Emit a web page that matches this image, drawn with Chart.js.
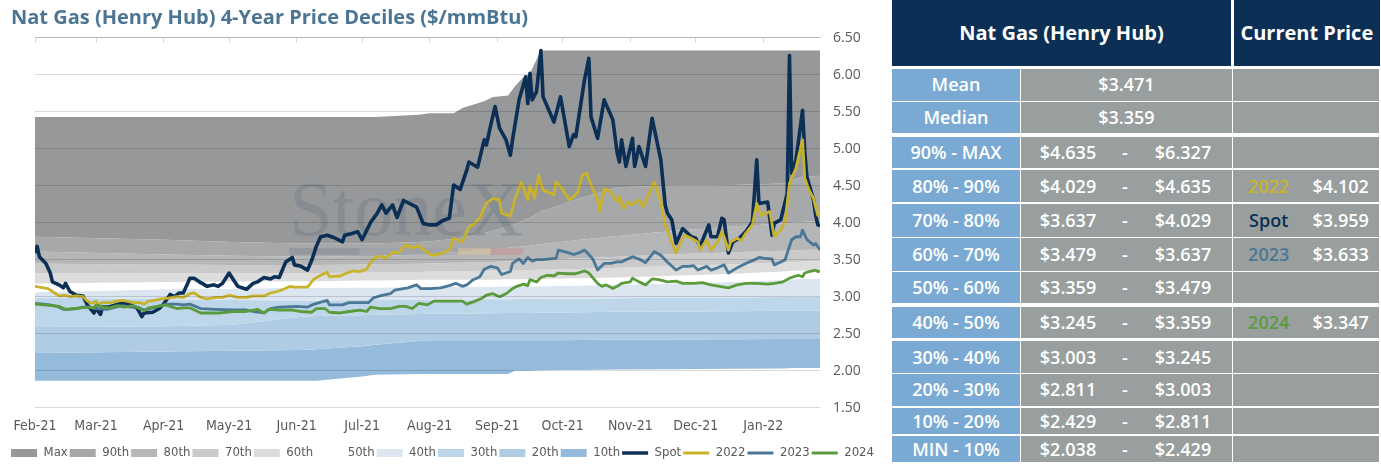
<!DOCTYPE html>
<html>
<head>
<meta charset="utf-8">
<title>Nat Gas (Henry Hub) 4-Year Price Deciles</title>
<script src="https://cdn.jsdelivr.net/npm/chart.js@4.4.1/dist/chart.umd.min.js"></script>
<style>
  html, body { margin: 0; padding: 0; background: #fff; }
  body { position: relative; width: 1381px; height: 464px; overflow: hidden; font-family: 'Open Sans', sans-serif; }
  #chartWrap { position: absolute; left: 0; top: 0; width: 885px; height: 464px; }
  #title { position: absolute; left: 11px; top: 4px; line-height: 26px; font-size: 20px; font-weight: 700; color: #4b7592; white-space: nowrap; }
  #table { position: absolute; left: 892px; top: 0; width: 489px; height: 464px; }
  #table .c { position: absolute; box-sizing: border-box; color: #fff; font-weight: 600; font-size: 18px; text-align: center; white-space: nowrap; }
  #table .hd { background: #0c2f55; font-size: 20px; font-weight: 700; }
  #table .lab { background: #7aaad4; }
  #table .val, #table .cur { background: #989f9e; }
  #table .part { position: absolute; top: 0; height: 100%; text-align: center; }
</style>
</head>
<body>
<div id="chartWrap"><canvas id="decileChart"></canvas></div>
<div id="title">Nat Gas (Henry Hub) 4-Year Price Deciles ($/mmBtu)</div>
<div id="table"></div>
<script>
// x axis = days counted from 1 Feb 2021
const monthDays = [0, 28, 59, 89, 120, 150, 181, 212, 242, 273, 303, 334];
const monthLabels = ['Feb-21', 'Mar-21', 'Apr-21', 'May-21', 'Jun-21', 'Jul-21',
  'Aug-21', 'Sep-21', 'Oct-21', 'Nov-21', 'Dec-21', 'Jan-22'];

// rolling decile lines, all sampled on the same days
const bandDays = [0, 30, 60, 91, 122, 129, 150, 156, 176, 181, 192, 196, 206, 210, 217,
  220, 224, 227, 232, 241, 250, 267, 290, 320, 343, 348, 352, 360];
const maxLine = [5.43, 5.43, 5.43, 5.43, 5.43, 5.43, 5.43, 5.43, 5.46, 5.48, 5.48, 5.55, 5.64, 5.70, 5.72,
  5.84, 5.97, 6.02, 6.327, 6.327, 6.327, 6.327, 6.327, 6.327, 6.327, 6.327, 6.327, 6.327];
const p90 = [3.81, 3.79, 3.77, 3.74, 3.72, 3.72, 3.72, 3.72, 3.74, 3.75, 3.78, 3.80, 3.86, 3.89, 3.95,
  3.98, 4.03, 4.07, 4.15, 4.24, 4.33, 4.48, 4.50, 4.51, 4.53, 4.58, 4.62, 4.635];
const p80 = [3.61, 3.59, 3.57, 3.555, 3.54, 3.54, 3.55, 3.55, 3.57, 3.58, 3.60, 3.61, 3.63, 3.64, 3.66,
  3.67, 3.68, 3.69, 3.71, 3.74, 3.77, 3.82, 3.88, 3.95, 3.99, 4.00, 4.01, 4.029];
const p70 = [3.45, 3.44, 3.435, 3.43, 3.43, 3.43, 3.435, 3.44, 3.445, 3.45, 3.46, 3.46, 3.47, 3.47, 3.48,
  3.48, 3.49, 3.49, 3.50, 3.51, 3.52, 3.54, 3.57, 3.60, 3.62, 3.625, 3.63, 3.637];
const p60 = [3.315, 3.315, 3.315, 3.32, 3.32, 3.32, 3.325, 3.33, 3.335, 3.34, 3.34, 3.345, 3.35, 3.35, 3.355,
  3.36, 3.36, 3.36, 3.365, 3.37, 3.375, 3.39, 3.41, 3.44, 3.46, 3.47, 3.475, 3.479];
const p50 = [3.18, 3.19, 3.20, 3.205, 3.21, 3.21, 3.22, 3.22, 3.23, 3.23, 3.23, 3.23, 3.23, 3.23, 3.235,
  3.235, 3.235, 3.24, 3.24, 3.245, 3.25, 3.26, 3.28, 3.31, 3.34, 3.35, 3.355, 3.359];
const p40 = [3.06, 3.08, 3.10, 3.11, 3.12, 3.12, 3.125, 3.125, 3.13, 3.13, 3.13, 3.13, 3.135, 3.135, 3.14,
  3.14, 3.14, 3.14, 3.14, 3.145, 3.15, 3.16, 3.18, 3.20, 3.225, 3.235, 3.24, 3.245];
const p30 = [2.99, 2.98, 2.965, 2.955, 2.95, 2.95, 2.955, 2.955, 2.96, 2.96, 2.96, 2.96, 2.965, 2.965, 2.965,
  2.97, 2.97, 2.97, 2.97, 2.975, 2.975, 2.98, 2.985, 2.99, 2.995, 3.0, 3.0, 3.003];
const p20 = [2.59, 2.595, 2.60, 2.62, 2.73, 2.74, 2.75, 2.755, 2.765, 2.77, 2.77, 2.77, 2.775, 2.775, 2.78,
  2.78, 2.78, 2.78, 2.785, 2.785, 2.79, 2.795, 2.80, 2.805, 2.81, 2.81, 2.81, 2.811];
const p10 = [2.24, 2.25, 2.26, 2.27, 2.28, 2.29, 2.33, 2.35, 2.40, 2.41, 2.41, 2.41, 2.41, 2.41, 2.41,
  2.41, 2.41, 2.41, 2.41, 2.412, 2.415, 2.42, 2.42, 2.425, 2.427, 2.428, 2.429, 2.429];
const minLine = [1.865, 1.865, 1.865, 1.865, 1.865, 1.865, 1.92, 1.945, 1.955, 1.955, 1.955, 1.955, 1.955, 1.955, 1.955,
  2.0, 2.0, 2.0, 2.005, 2.01, 2.01, 2.015, 2.02, 2.025, 2.03, 2.035, 2.037, 2.038];

// price lines as [day, $/mmBtu]
const spotSeries = [[0,3.59],[1,3.68],[2,3.54],[5,3.45],[7,3.32],[8,3.20],[11,3.16],[13,3.12],[14,3.18],[16,3.07],
  [19,3.02],[22,3.01],[24,2.89],[27,2.78],[28,2.84],[30,2.76],[31,2.86],[34,2.86],[37,2.89],[40,2.91],
  [44,2.89],[47,2.84],[49,2.73],[50,2.78],[54,2.79],[57,2.84],[59,2.90],[62,3.03],[64,3.00],[66,3.05],
  [68,3.05],[70,3.18],[71,3.25],[73,3.25],[76,3.19],[79,3.14],[82,3.16],[84,3.14],[86,3.18],[89,3.32],
  [91,3.23],[93,3.14],[97,3.10],[100,3.18],[102,3.20],[105,3.26],[108,3.24],[110,3.27],[112,3.26],[115,3.47],
  [118,3.53],[119,3.43],[122,3.41],[125,3.36],[127,3.50],[129,3.68],[131,3.81],[134,3.83],[137,3.80],[141,3.74],
  [142,3.83],[145,3.85],[148,3.88],[150,3.77],[152,3.89],[154,4.01],[157,4.13],[159,4.24],[161,4.13],[164,4.24],
  [166,4.07],[169,4.30],[173,4.24],[175,4.21],[178,3.99],[181,3.97],[184,3.97],[187,4.03],[190,4.06],[192,4.51],
  [195,4.45],[198,4.71],[199,4.82],[203,4.75],[206,5.12],[207,5.05],[209,5.32],[211,5.57],[213,5.28],[216,5.12],
  [218,4.91],[219,5.12],[222,5.66],[225,5.97],[226,5.61],[227,6.02],[228,5.66],[230,5.77],[232,6.327],[233,5.70],
  [238,5.36],[241,5.70],[245,5.03],[247,5.19],[248,5.16],[252,5.93],[254,6.22],[255,5.43],[258,5.14],[261,5.66],
  [264,5.46],[265,5.39],[267,4.94],[268,4.82],[269,5.12],[271,4.76],[274,5.14],[275,4.76],[277,5.03],[280,4.76],
  [283,5.41],[287,4.85],[289,4.24],[290,4.13],[292,4.04],[294,3.72],[297,3.92],[301,3.81],[303,3.79],[305,3.68],
  [309,3.97],[310,3.81],[313,3.81],[315,4.06],[316,4.04],[318,3.59],[320,3.74],[323,3.79],[326,3.88],[329,4.01],
  [331,4.85],[332,4.26],[336,4.28],[338,3.83],[339,3.99],[342,4.04],[345,4.40],[346,6.26],[347,4.67],[349,4.85],
  [352,5.52],[353,4.96],[354,4.62],[357,4.31],[358,4.10],[359,3.97],[360,3.959]];
const y2022Series = [[0,3.14],[4,3.12],[6,3.11],[8,3.07],[11,3.01],[14,3.02],[16,3.00],[19,3.01],[22,3.00],[24,2.94],
  [26,2.91],[28,2.94],[29,2.90],[31,2.92],[35,2.92],[37,2.94],[40,2.95],[42,2.94],[45,2.92],[48,2.92],
  [50,2.90],[52,2.94],[55,2.95],[58,2.97],[61,2.98],[65,3.00],[68,2.99],[71,3.04],[73,3.05],[76,2.99],
  [79,2.97],[83,2.99],[86,2.99],[89,3.02],[93,2.99],[97,2.99],[100,3.01],[105,3.01],[108,3.05],[111,3.07],
  [114,3.10],[117,3.14],[119,3.13],[125,3.13],[128,3.24],[131,3.29],[134,3.33],[135,3.27],[140,3.28],[143,3.32],
  [146,3.35],[149,3.34],[152,3.37],[155,3.51],[158,3.55],[161,3.52],[164,3.60],[167,3.60],[170,3.70],[173,3.66],
  [176,3.69],[179,3.62],[182,3.56],[186,3.58],[190,3.63],[192,3.79],[196,3.74],[199,3.95],[201,3.97],[204,4.07],
  [207,4.26],[210,4.33],[213,4.31],[214,4.13],[218,4.09],[220,4.31],[223,4.55],[226,4.31],[227,4.50],[229,4.33],
  [231,4.64],[233,4.44],[238,4.38],[239,4.56],[242,4.45],[245,4.31],[247,4.35],[249,4.42],[251,4.64],[253,4.67],
  [255,4.51],[258,4.31],[259,4.15],[261,4.46],[264,4.42],[267,4.28],[268,4.35],[270,4.19],[272,4.28],[274,4.24],
  [277,4.31],[279,4.22],[284,4.55],[287,4.28],[289,3.97],[291,3.81],[294,3.59],[296,3.74],[298,3.83],[301,3.79],
  [304,3.74],[305,3.63],[308,3.77],[310,3.63],[313,3.74],[315,3.88],[316,3.81],[318,3.63],[319,3.74],[322,3.79],
  [324,3.76],[326,3.86],[329,3.97],[331,4.26],[333,4.10],[337,4.15],[339,3.81],[342,3.90],[344,4.01],[346,4.53],
  [349,4.74],[352,5.12],[353,4.60],[355,4.44],[357,4.33],[359,4.10],[360,4.102]];
const y2023Series = [[0,2.91],[4,2.90],[7,2.89],[10,2.87],[13,2.83],[16,2.83],[19,2.84],[22,2.86],[25,2.86],[28,2.84],
  [33,2.83],[37,2.86],[40,2.88],[44,2.86],[47,2.86],[50,2.82],[54,2.85],[59,2.89],[62,2.90],[65,2.90],
  [68,2.89],[71,2.90],[76,2.84],[83,2.83],[91,2.82],[97,2.82],[100,2.80],[105,2.78],[108,2.84],[112,2.86],
  [120,2.87],[125,2.86],[128,2.90],[134,2.95],[135,2.89],[141,2.89],[144,2.92],[148,2.92],[153,2.92],[155,2.98],
  [158,3.01],[163,3.04],[165,3.09],[167,3.10],[171,3.12],[175,3.16],[177,3.11],[181,3.11],[186,3.12],[190,3.15],
  [193,3.18],[196,3.14],[198,3.16],[201,3.23],[204,3.27],[206,3.37],[209,3.41],[212,3.39],[214,3.30],[218,3.34],
  [219,3.45],[222,3.51],[224,3.45],[226,3.53],[228,3.48],[230,3.50],[233,3.50],[239,3.52],[240,3.63],[244,3.60],
  [247,3.57],[250,3.60],[252,3.63],[254,3.57],[256,3.50],[258,3.36],[261,3.45],[264,3.45],[267,3.47],[269,3.47],
  [271,3.50],[274,3.54],[277,3.51],[280,3.46],[284,3.61],[287,3.56],[290,3.47],[294,3.36],[297,3.41],[300,3.41],
  [302,3.42],[304,3.36],[308,3.41],[310,3.36],[313,3.39],[316,3.43],[318,3.32],[322,3.39],[326,3.45],[330,3.50],
  [332,3.53],[334,3.52],[338,3.51],[339,3.43],[342,3.47],[344,3.50],[347,3.77],[349,3.81],[351,3.81],[352,3.90],
  [354,3.77],[357,3.70],[358,3.72],[360,3.633]];
const y2024Series = [[0,2.90],[4,2.89],[8,2.88],[11,2.87],[14,2.83],[17,2.84],[21,2.85],[24,2.86],[27,2.85],[28,2.89],
  [31,2.86],[34,2.85],[38,2.88],[41,2.86],[45,2.88],[48,2.84],[50,2.81],[52,2.85],[56,2.87],[60,2.89],
  [63,2.86],[65,2.84],[68,2.85],[71,2.85],[76,2.78],[80,2.78],[85,2.78],[91,2.80],[97,2.80],[102,2.83],
  [105,2.78],[107,2.83],[112,2.82],[118,2.82],[122,2.80],[127,2.79],[129,2.84],[133,2.84],[135,2.79],[140,2.78],
  [144,2.80],[149,2.82],[152,2.80],[154,2.86],[158,2.84],[163,2.84],[167,2.87],[170,2.87],[173,2.84],[176,2.91],
  [180,2.89],[183,2.94],[187,2.94],[190,2.94],[196,2.94],[198,2.90],[201,2.93],[205,2.98],[207,3.02],[210,3.04],
  [213,3.00],[216,3.04],[219,3.11],[221,3.14],[224,3.17],[226,3.15],[227,3.23],[230,3.20],[232,3.26],[235,3.29],
  [238,3.28],[240,3.32],[244,3.31],[248,3.31],[252,3.35],[254,3.32],[258,3.18],[260,3.14],[262,3.16],[265,3.11],
  [267,3.14],[269,3.18],[273,3.20],[274,3.25],[277,3.20],[280,3.16],[283,3.24],[286,3.23],[290,3.20],[294,3.21],
  [297,3.18],[302,3.18],[306,3.19],[310,3.16],[314,3.14],[318,3.12],[322,3.16],[326,3.18],[331,3.18],[336,3.17],
  [339,3.18],[343,3.20],[346,3.25],[348,3.27],[350,3.29],[352,3.27],[353,3.32],[355,3.34],[358,3.36],[359,3.34],
  [360,3.347]];

// table
const rowLabels = ['Mean', 'Median', '90% - MAX', '80% - 90%', '70% - 80%', '60% - 70%', '50% - 60%',
  '40% - 50%', '30% - 40%', '20% - 30%', '10% - 20%', 'MIN - 10%'];
const statValues = [3.471, 3.359];
const rangeLow = [4.635, 4.029, 3.637, 3.479, 3.359, 3.245, 3.003, 2.811, 2.429, 2.038];
const rangeHigh = [6.327, 4.635, 4.029, 3.637, 3.479, 3.359, 3.245, 3.003, 2.811, 2.429];
const currentNames = ['2022', 'Spot', '2023', '2024'];
const currentValues = [4.102, 3.959, 3.633, 3.347];

// styling
const bandNames = ['Max', '90th', '80th', '70th', '60th', '50th', '40th', '30th', '20th', '10th'];
const bandColors = ['#97989a', '#a7a8aa', '#b5b6b7', '#cacaca', '#dcdcdc', '#ffffff',
  '#dbe6f1', '#bed6ea', '#afcce4', '#94bbdc'];
const lineNames = ['Spot', '2022', '2023', '2024'];
const lineColors = ['#0b2f55', '#c9b32c', '#4b7896', '#5b9b3c'];
const lineWidths = [3.6, 2.8, 2.8, 2.8];
const narrowFont = "'DejaVu Sans Condensed', 'Liberation Sans Narrow', Roboto, sans-serif";

const zipDays = (days, vals) => days.map((d, i) => ({x: d, y: vals[i]}));
const fromPairs = arr => arr.map(p => ({x: p[0], y: p[1]}));

const bandSeries = [maxLine, p90, p80, p70, p60, p50, p40, p30, p20, p10];
const datasets = bandSeries.map((vals, i) => ({
  label: bandNames[i],
  data: zipDays(bandDays, vals),
  xAxisID: 'x',
  yAxisID: 'y',
  backgroundColor: bandColors[i],
  borderColor: 'rgba(0,0,0,0)',
  borderWidth: 0,
  pointRadius: 0,
  pointStyle: 'rect',
  fill: '+1',
  order: 10
}));
datasets.push({
  label: 'Min', data: zipDays(bandDays, minLine), xAxisID: 'x', yAxisID: 'y',
  borderColor: 'rgba(0,0,0,0)', borderWidth: 0, pointRadius: 0, fill: false, order: 10
});
[spotSeries, y2022Series, y2023Series, y2024Series].forEach((s, i) => {
  datasets.push({
    label: lineNames[i],
    data: fromPairs(s),
    xAxisID: 'x',
    yAxisID: 'y',
    borderColor: lineColors[i],
    backgroundColor: lineColors[i],
    borderWidth: lineWidths[i],
    borderJoinStyle: 'round',
    pointRadius: 0,
    pointStyle: 'line',
    tension: 0,
    fill: false,
    order: 4 - i   // later series on top
  });
});

const monthTicks = scale => { scale.ticks = monthDays.map(v => ({value: v})); };

// faint StoneX mark over the bands, under the lines
const watermark = {
  id: 'watermark',
  beforeDatasetsDraw(chart) {
    const {ctx, chartArea: a} = chart;
    const cx = a.left + a.width * 0.473;
    const base = a.top + a.height * 0.533;
    ctx.save();
    ctx.font = "78px 'Liberation Serif', 'DejaVu Serif', serif";
    ctx.textAlign = 'center';
    ctx.textBaseline = 'alphabetic';
    ctx.fillStyle = 'rgba(112,124,134,0.42)';
    ctx.fillText('StoneX', cx, base);
    const w = ctx.measureText('StoneX').width;
    const x0 = cx - w / 2;
    const strip = [[0, 0.3, 'rgba(105,120,138,0.30)'], [0.3, 0.72, 'rgba(140,152,165,0.25)'],
      [0.72, 0.86, 'rgba(230,200,140,0.40)'], [0.86, 1, 'rgba(205,130,130,0.40)']];
    strip.forEach(s => {
      ctx.fillStyle = s[2];
      ctx.fillRect(x0 + w * s[0], base + 13, w * (s[1] - s[0]), 7);
    });
    ctx.restore();
  }
};

new Chart(document.getElementById('decileChart'), {
  type: 'line',
  data: {datasets},
  plugins: [watermark],
  options: {
    responsive: true,
    maintainAspectRatio: false,
    animation: false,
    layout: {padding: 0},
    plugins: {
      filler: {drawTime: 'beforeDatasetsDraw'},
      tooltip: {enabled: false},
      title: {display: false},
      legend: {
        position: 'bottom',
        maxHeight: 19.5,
        labels: {
          usePointStyle: true,
          pointStyleWidth: 26,
          boxHeight: 8,
          padding: 2,
          color: '#595959',
          font: {family: narrowFont, size: 13},
          filter: item => item.text !== 'Min',
          sort: (a, b) => a.datasetIndex - b.datasetIndex
        }
      }
    },
    scales: {
      x: {
        type: 'linear', position: 'bottom', min: 0, max: 360,
        afterBuildTicks: monthTicks,
        afterFit: s => { s.height = 36.8; },
        grid: {display: false},
        border: {display: false},
        ticks: {
          autoSkip: false, maxRotation: 0, padding: 2, color: '#595959',
          font: {family: narrowFont, size: 14},
          callback: (v, i) => monthLabels[i]
        }
      },
      xTop: {
        type: 'linear', position: 'top', min: 0, max: 360,
        afterBuildTicks: monthTicks,
        afterFit: s => { s.height = 37.7; },
        grid: {drawOnChartArea: false, drawTicks: true, tickLength: -5, tickColor: '#d9d9d9'},
        border: {display: true, color: '#d9d9d9'},
        ticks: {display: false}
      },
      // empty left margin so the plot starts at the same place as the original
      yLeft: {
        position: 'left', min: 1.5, max: 6.5,
        afterFit: s => { s.width = 35; },
        grid: {display: false},
        border: {display: false},
        ticks: {display: false}
      },
      y: {
        position: 'right', min: 1.5, max: 6.5,
        afterFit: s => { s.width = 65; },
        grid: {color: 'rgba(0,0,0,0.15)', z: 1, drawTicks: false},
        border: {display: false},
        ticks: {
          stepSize: 0.5, padding: 13, color: '#595959',
          font: {family: "'Open Sans', sans-serif", size: 14},
          callback: v => v.toFixed(2)
        }
      }
    }
  }
});

// ---- decile table ----
const rowTop = [69, 102.3, 136.7, 170, 204, 238.3, 272.3, 307.3, 340.7, 374.3, 407.7, 436];
const rowH = [31.7, 31, 31.6, 32.3, 32.7, 32.4, 31, 31, 32, 31.7, 26.3, 26.3];
const tableEl = document.getElementById('table');
const money = v => '$' + v.toFixed(3);

function cell(parent, cls, left, top, width, height, text) {
  const d = document.createElement('div');
  d.className = cls;
  d.style.left = left + 'px';
  d.style.top = top + 'px';
  d.style.width = width + 'px';
  d.style.height = height + 'px';
  d.style.lineHeight = height + 'px';
  if (text !== undefined) d.textContent = text;
  parent.appendChild(d);
  return d;
}
function part(parent, left, width, text, color) {
  const s = document.createElement('div');
  s.className = 'part';
  s.style.left = left + 'px';
  s.style.width = width + 'px';
  s.textContent = text;
  if (color) s.style.color = color;
  parent.appendChild(s);
}

cell(tableEl, 'c hd', 0, 0, 339, 65.7, 'Nat Gas (Henry Hub)');
cell(tableEl, 'c hd', 341.7, 0, 146.3, 65.7, 'Current Price');

rowLabels.forEach((lab, i) => {
  const top = rowTop[i], h = rowH[i];
  cell(tableEl, 'c lab', 0, top, 128, h, lab);
  const val = cell(tableEl, 'c val', 129, top, 210.7, h);
  const cur = cell(tableEl, 'c cur', 340.7, top, 146.6, h);
  if (i < 2) {
    val.textContent = money(statValues[i]);
    return;
  }
  const k = i - 2;
  part(val, 0, 94, money(rangeLow[k]));
  part(val, 94, 20, '-');
  part(val, 114, 96, money(rangeHigh[k]));
  currentValues.forEach((v, j) => {
    if (v >= rangeLow[k] && v < rangeHigh[k]) {
      part(cur, 0, 72, currentNames[j], lineColors[lineNames.indexOf(currentNames[j])]);
      part(cur, 72, 72, money(v));
    }
  });
});
</script>
</body>
</html>
